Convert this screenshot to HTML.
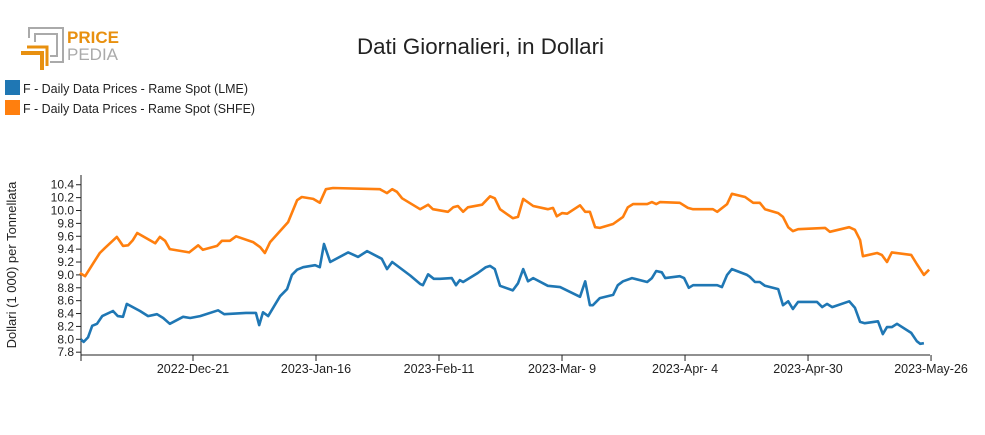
<!DOCTYPE html>
<html><head><meta charset="utf-8"><style>
body{margin:0;background:#fff;width:985px;height:430px;overflow:hidden;font-family:"Liberation Sans",sans-serif}
svg text{font-family:"Liberation Sans",sans-serif}
</style></head><body>
<svg id="c" width="985" height="430">
<g>
<path d="M29 38 V28 H63 V62 H50" fill="none" stroke="#aaa" stroke-width="2"/>
<path d="M35 42 V34 H57 V56 H50" fill="none" stroke="#aaa" stroke-width="2"/>
<path d="M21 53 H42 V70" fill="none" stroke="#e8900f" stroke-width="4"/>
<path d="M27 47 H47 V66" fill="none" stroke="#e8900f" stroke-width="3"/>
<text x="67" y="43" font-size="17" font-weight="bold" fill="#e8900f">PRICE</text>
<text x="67" y="60" font-size="17" fill="#aaa">PEDIA</text>
</g>
<text x="357" y="54" font-size="22" textLength="247" lengthAdjust="spacingAndGlyphs" fill="#222">Dati Giornalieri, in Dollari</text>
<g>
<rect x="5" y="80" width="15" height="15" fill="#1f77b4"/>
<text x="23" y="93" font-size="13" textLength="225" lengthAdjust="spacingAndGlyphs" fill="#222">F - Daily Data Prices - Rame Spot (LME)</text>
<rect x="5" y="100" width="15" height="15" fill="#ff7f0e"/>
<text x="23" y="113" font-size="13" textLength="232" lengthAdjust="spacingAndGlyphs" fill="#222">F - Daily Data Prices - Rame Spot (SHFE)</text>
</g>
<text transform="translate(16,265) rotate(-90)" font-size="13" text-anchor="middle" fill="#222">Dollari (1 000) per Tonnellata</text>
<g id="axes"></g>
<g id="plot"></g>
</svg>
<script>
const xTickLabels=["2022-Dec-21","2023-Jan-16","2023-Feb-11","2023-Mar- 9","2023-Apr- 4","2023-Apr-30","2023-May-26"];
const xTickDays=[0,26,52,78,104,130,156];
const yTicks=[7.8,8.0,8.2,8.4,8.6,8.8,9.0,9.2,9.4,9.6,9.8,10.0,10.2,10.4];
const lmeDays=[-23.7,-23.1,-22.2,-21.3,-20.3,-19.2,-16.9,-15.9,-14.8,-14.0,-11.2,-9.5,-7.6,-6.3,-4.9,-2.1,-0.6,1.5,5.3,6.6,11.2,13.3,14.0,14.8,15.9,18.4,19.9,20.9,22.0,23.3,25.8,26.8,27.7,29.0,32.8,34.9,36.8,39.9,41.0,42.1,45.9,48.0,48.6,49.7,50.9,52.2,54.7,55.6,56.4,57.1,60.2,61.9,62.8,63.8,64.9,67.6,68.7,69.8,70.8,71.9,75.0,77.6,81.8,82.9,83.9,84.5,86.0,88.8,89.8,90.9,92.8,96.0,97.0,97.9,99.1,99.8,102.9,103.8,104.8,105.7,110.8,111.8,112.9,113.9,117.1,117.7,118.8,119.8,120.9,123.7,124.7,125.8,126.8,127.9,131.9,133.0,134.0,135.1,138.7,139.9,141.0,142.0,144.8,145.8,146.7,147.7,148.8,151.8,153.0,153.7,154.5];
const lmeValues=[8.00,7.96,8.03,8.21,8.24,8.36,8.44,8.36,8.35,8.55,8.44,8.36,8.39,8.33,8.24,8.35,8.33,8.36,8.45,8.39,8.41,8.41,8.22,8.42,8.36,8.67,8.78,9.00,9.08,9.12,9.15,9.12,9.48,9.20,9.35,9.28,9.37,9.25,9.09,9.20,8.99,8.86,8.84,9.01,8.94,8.94,8.95,8.84,8.92,8.89,9.03,9.12,9.14,9.09,8.83,8.76,8.87,9.09,8.90,8.95,8.83,8.81,8.66,8.90,8.53,8.53,8.64,8.69,8.84,8.90,8.95,8.89,8.95,9.06,9.04,8.95,8.98,8.95,8.80,8.84,8.84,8.81,9.00,9.09,9.00,8.97,8.89,8.89,8.83,8.78,8.53,8.59,8.47,8.58,8.58,8.50,8.55,8.50,8.59,8.49,8.27,8.25,8.28,8.08,8.19,8.19,8.24,8.10,7.97,7.93,7.94];
const shfeDays=[-23.9,-22.8,-21.1,-19.7,-18.6,-16.1,-14.8,-13.7,-12.7,-11.8,-8.0,-7.0,-5.9,-4.9,-0.8,1.1,2.1,5.1,6.1,7.8,9.1,12.7,14.2,15.2,16.3,20.1,22.0,23.0,25.4,26.8,28.1,29.6,39.5,41.0,42.1,43.1,44.2,48.0,49.7,50.7,53.9,55.0,56.0,57.1,58.1,61.1,62.8,63.8,64.9,67.6,68.7,69.8,71.9,75.0,76.1,76.9,78.0,79.1,81.8,82.9,83.9,85.0,86.0,88.8,90.9,91.9,93.0,96.0,97.0,97.9,98.7,102.9,104.6,105.7,109.9,110.8,112.9,113.9,116.7,118.4,119.8,120.9,123.7,124.7,125.8,126.8,127.9,133.6,134.6,138.7,139.9,141.0,141.6,144.6,145.6,146.7,147.7,151.8,153.0,154.5,155.6];
const shfeValues=[9.03,8.98,9.18,9.34,9.42,9.59,9.45,9.46,9.54,9.65,9.49,9.59,9.53,9.40,9.35,9.46,9.39,9.45,9.53,9.53,9.60,9.51,9.43,9.34,9.51,9.82,10.16,10.21,10.18,10.12,10.33,10.35,10.33,10.27,10.33,10.29,10.19,10.02,10.09,10.02,9.98,10.05,10.07,9.98,10.05,10.09,10.22,10.19,10.02,9.88,9.90,10.18,10.07,10.02,10.04,9.91,9.96,9.95,10.08,9.98,9.98,9.74,9.73,9.79,9.90,10.05,10.10,10.10,10.13,10.10,10.13,10.12,10.04,10.02,10.02,9.98,10.10,10.26,10.21,10.12,10.12,10.02,9.96,9.90,9.74,9.68,9.71,9.73,9.67,9.74,9.70,9.54,9.29,9.34,9.31,9.20,9.35,9.31,9.17,9.00,9.08];

const NS="http://www.w3.org/2000/svg";
const X0=81,X1=930,Y0=355,Y1=175;
const x=d=>193+d*4.731;
const y=v=>339.3-(v-8.0)*64.4;
const axes=document.getElementById('axes'),plot=document.getElementById('plot');
function mk(t,a,p){const e=document.createElementNS(NS,t);for(const k in a)e.setAttribute(k,a[k]);p.appendChild(e);return e;}
let ya=mk('line',{x1:X0,x2:X0,y1:Y1,y2:Y0,stroke:'#222','stroke-width':1},axes);


let xa=mk('line',{x1:X0,x2:X1,y1:Y0,y2:Y0,stroke:'#222','stroke-width':1},axes);


mk('line',{x1:X0,x2:X0,y1:Y0,y2:Y0+6,stroke:'#222'},axes);
yTicks.forEach(v=>{
  mk('line',{x1:X0-5,x2:X0,y1:y(v),y2:y(v),stroke:'#222'},axes);
  const t=mk('text',{x:X0-7,y:y(v)+4,'font-size':12,'text-anchor':'end',fill:'#222'},axes);
  t.textContent=v.toFixed(1);
  
  
});
xTickDays.forEach((d,i)=>{
  mk('line',{x1:x(d),x2:x(d),y1:Y0,y2:Y0+6,stroke:'#222'},axes);
  const t=mk('text',{x:x(d),y:Y0+18,'font-size':12.5,'text-anchor':'middle',fill:'#222'},axes);
  t.textContent=xTickLabels[i];
  
  
});
function line(days,vals,col,name){
  const p=mk('path',{d:days.map((d,i)=>(i?'L':'M')+x(d).toFixed(1)+' '+y(vals[i]).toFixed(1)).join(''),fill:'none',stroke:col,'stroke-width':2.6,'stroke-linejoin':'round'},plot);
  
  
}
line(shfeDays,shfeValues,'#ff7f0e','line-shfe');
line(lmeDays,lmeValues,'#1f77b4','line-lme');
</script>
</body></html>
